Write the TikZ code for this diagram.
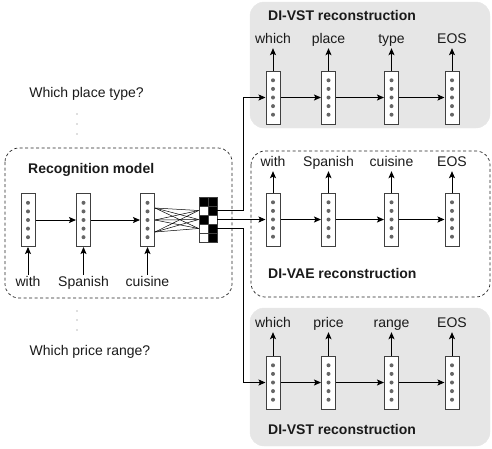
\documentclass[tikz,border=0pt]{standalone}
\usepackage{fontspec}
\setmainfont{Liberation Sans}
\usetikzlibrary{arrows.meta}
\definecolor{panelgray}{HTML}{E6E6E6}
\definecolor{txt}{HTML}{1A1A1A}
\begin{document}
\begin{tikzpicture}[x=1pt,y=-1pt,
  font=\fontsize{14}{16}\selectfont, text=txt,
  cell/.style={draw=black!75, fill=white, line width=1pt, minimum width=14pt, minimum height=53pt, inner sep=0pt,
    path picture={\foreach \i in {-2,...,2}{\fill[black!60] ([yshift=\i*8.6pt]path picture bounding box.center) circle (2pt);}}},
  arr/.style={-{Stealth[length=7pt,width=6pt,inset=1.5pt]}, line width=0.9pt},
  word/.style={inner sep=1.5pt, text height=10pt, text depth=3pt},
  title/.style={font=\fontsize{14}{16}\selectfont\bfseries, anchor=west, inner sep=0pt},
  dashbox/.style={draw=black!85, line width=0.7pt, dash pattern=on 3pt off 2.5pt, rounded corners=14pt},
  graybox/.style={fill=panelgray, draw=panelgray, rounded corners=14pt},
  sq/.style={draw=black!75, line width=0.8pt, minimum size=9pt, inner sep=0pt},
  vdot/.style={fill=black!55}
]
\useasboundingbox (0,0) rectangle (492,448);

% panels
\draw[graybox] (250,2) rectangle (490,128);
\draw[dashbox] (251,151) rectangle (490,297);
\draw[graybox] (250,308) rectangle (490,446);
\draw[dashbox] (5,148) rectangle (232,298);

% titles
\node[title] at (268,15) {DI-VST reconstruction};
\node[title] at (268,273) {DI-VAE reconstruction};
\node[title] at (268,429) {DI-VST reconstruction};
\node[title] at (28,170) {Recognition model};

% left texts
\node (q1) at (86.5,94) {Which place type?};
\node (q2) at (90,352) {Which price range?};
\foreach \y in {114,124,134,311,320,330} \fill[vdot] (77,\y) circle (0.6pt);

% recognition cells
\node[cell] (r1) at (28,220) {};
\node[cell] (r2) at (83.5,220) {};
\node[cell] (r3) at (147.5,220) {};
\node[word] (w1) at (28,283) {with};
\node[word] (w2) at (83.5,283) {Spanish};
\node[word] (w3) at (147.5,283) {cuisine};
\foreach \i in {1,2,3} \draw[arr] (w\i.north) -- (r\i.south);
\draw[arr] (r1.east) -- (r2.west);
\draw[arr] (r2.east) -- (r3.west);

% latent grid
\foreach \r/\cl/\cr in {1/black/black,2/white/black,3/black/white,4/white/black,5/white/black}{
  \node[sq, fill=\cl] (gL\r) at (203.5,192.5+9*\r) {};
  \node[sq, fill=\cr] (gR\r) at (212.5,192.5+9*\r) {};
}
\foreach \a in {-12,0,12} \foreach \b in {2,3,4}
  \draw[line width=0.5pt] ([yshift=\a pt]r3.east) -- (gL\b.west);

% decoder cells
\foreach \x [count=\k] in {273,328.5,391.5,452}{
  \node[cell] (t\k) at (\x,97.5) {};
  \node[cell] (m\k) at (\x,219.5) {};
  \node[cell] (b\k) at (\x,382.5) {};
}
\foreach \k/\w in {1/which,2/place,3/type,4/EOS} {
  \node[word] (tw\k) at (t\k |- 0,40) {\w};
  \draw[arr] (t\k.north) -- (tw\k.south);
}
\foreach \k/\w in {1/with,2/Spanish,3/cuisine,4/EOS} {
  \node[word] (mw\k) at (m\k |- 0,163) {\w};
  \draw[arr] (m\k.north) -- (mw\k.south);
}
\foreach \k/\w in {1/which,2/price,3/range,4/EOS} {
  \node[word] (bw\k) at (b\k |- 0,324) {\w};
  \draw[arr] (b\k.north) -- (bw\k.south);
}
\foreach \a/\b in {1/2,2/3,3/4}{
  \draw[arr] (t\a.east) -- (t\b.west);
  \draw[arr] (m\a.east) -- (m\b.west);
  \draw[arr] (b\a.east) -- (b\b.west);
}

% outgoing connectors
\draw[arr] (gR2.east) -- ++(26,0) |- (t1.west);
\draw[arr] (gR3.east) -- (m1.west);
\draw[arr] (gR4.east) -- ++(26,0) |- (b1.west);
\end{tikzpicture}
\end{document}
